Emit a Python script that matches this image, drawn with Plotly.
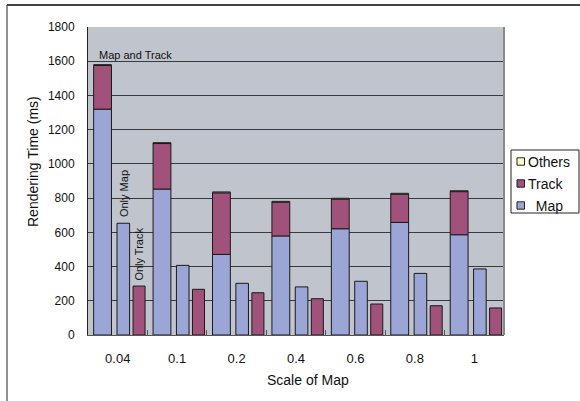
import numpy as np
import plotly.graph_objects as go

# ---- data ----
scales = ["0.04", "0.1", "0.2", "0.4", "0.6", "0.8", "1"]
map_part = [1320, 853, 471, 579, 621, 658, 586]        # Map in "Map and Track"
track_part = [255, 266, 360, 197, 173, 165, 252]       # Track in "Map and Track"
others_part = [5, 5, 5, 5, 5, 5, 5]                    # Others in "Map and Track"
only_map = [653, 407, 302, 281, 314, 360, 386]
only_track = [286, 267, 247, 212, 181, 171, 158]
y_ticks = [0, 200, 400, 600, 800, 1000, 1200, 1400, 1600, 1800]
legend_labels = ["Others", "Track", "\u00a0\u00a0Map"]

MAP_C = "#9CA6D6"
TRACK_C = "#A0527A"
OTHERS_C = "#FFFFCC"
EDGE = "#1a1a1a"
FONT = "Liberation Sans, Arial, sans-serif"

base_track = np.array(map_part)
base_others = np.array(map_part) + np.array(track_part)

fig = go.Figure()
line = dict(color=EDGE, width=1)
# stacked "Map and Track" bar
fig.add_trace(go.Bar(x=scales, y=map_part, name="Map", marker=dict(color=MAP_C, line=line),
                     offset=-0.405, width=0.30))
fig.add_trace(go.Bar(x=scales, y=track_part, base=base_track, name="Track",
                     marker=dict(color=TRACK_C, line=line), offset=-0.405, width=0.30))
fig.add_trace(go.Bar(x=scales, y=others_part, base=base_others, name="Others",
                     marker=dict(color=OTHERS_C, line=line), offset=-0.405, width=0.30))
# only map / only track
fig.add_trace(go.Bar(x=scales, y=only_map, name="Only Map", marker=dict(color=MAP_C, line=line),
                     offset=-0.012, width=0.212))
fig.add_trace(go.Bar(x=scales, y=only_track, name="Only Track", marker=dict(color=TRACK_C, line=line),
                     offset=0.258, width=0.202))

L, R, T, B = 88, 76, 27, 66
W, H = 580, 401
pw, ph = W - L - R, H - T - B


def px(x):
    return (x - L) / pw


def py(y):
    return (H - B - y) / ph


annotations = [
    dict(x=-0.405, y=map_part[0] + track_part[0] + others_part[0], xref="x", yref="y",
         text="Map and Track", showarrow=False, xanchor="left", yanchor="bottom",
         xshift=3, yshift=2, font=dict(size=11, family=FONT, color="#111")),
    dict(x=-0.012 + 0.106, y=only_map[0], xref="x", yref="y", text="Only Map",
         showarrow=False, textangle=-90, xanchor="center", yanchor="bottom", yshift=4,
         font=dict(size=11, family=FONT, color="#111")),
    dict(x=0.258 + 0.101, y=only_track[0], xref="x", yref="y", text="Only Track",
         showarrow=False, textangle=-90, xanchor="center", yanchor="bottom", yshift=3,
         font=dict(size=11, family=FONT, color="#111")),
    dict(x=px(308), y=py(380), xref="paper", yref="paper", text="Scale of Map",
         showarrow=False, xanchor="center", yanchor="middle",
         font=dict(size=14, family=FONT, color="#111")),
    dict(x=px(33), y=py(162), xref="paper", yref="paper", text="Rendering Time (ms)",
         showarrow=False, textangle=-90, xanchor="center", yanchor="middle",
         font=dict(size=14, family=FONT, color="#111")),
]

shapes = [
    # outer frame (left and top)
    dict(type="line", xref="paper", yref="paper", x0=px(7), x1=px(7), y0=py(401), y1=py(5),
         line=dict(color="#222", width=1)),
    dict(type="line", xref="paper", yref="paper", x0=px(7), x1=px(580), y0=py(5), y1=py(5),
         line=dict(color="#444", width=2)),
    # right border of plot area
    dict(type="line", xref="paper", yref="paper", x0=1, x1=1, y0=0, y1=1,
         line=dict(color="#8a8a8a", width=2)),
    # legend box
    dict(type="rect", xref="paper", yref="paper", x0=px(511), x1=px(579), y0=py(213), y1=py(150),
         line=dict(color="#222", width=1), fillcolor="white"),
]
leg_colors = [OTHERS_C, TRACK_C, MAP_C]
leg_y = [161.5, 183.5, 205.5]
for lab, col, yy in zip(legend_labels, leg_colors, leg_y):
    shapes.append(dict(type="rect", xref="paper", yref="paper", x0=px(517), x1=px(524.5),
                       y0=py(yy + 3.7), y1=py(yy - 3.7), fillcolor=col,
                       line=dict(color="#222", width=1)))
    annotations.append(dict(x=px(526), y=py(yy), xref="paper", yref="paper", text=lab,
                            showarrow=False, xanchor="left", yanchor="middle",
                            font=dict(size=14, family=FONT, color="#111")))

fig.update_layout(
    width=W, height=H,
    margin=dict(l=L, r=R, t=T, b=B, autoexpand=False),
    barmode="overlay",
    showlegend=False,
    paper_bgcolor="white",
    plot_bgcolor="#C0C4CC",
    font=dict(family=FONT, color="#111"),
    annotations=annotations,
    shapes=shapes,
)
fig.update_xaxes(type="category", range=[-0.5, 6.5], showgrid=False, tickson="boundaries",
                 ticks="inside", ticklen=5, tickcolor="#555", showline=True, linecolor="#555",
                 linewidth=1, tickfont=dict(size=13, family=FONT, color="#111"),
                 ticklabelstandoff=11)
fig.update_yaxes(range=[0, 1800], tickvals=y_ticks, showgrid=True, gridcolor="#3a3a3a",
                 gridwidth=1, showline=True, linecolor="#222", linewidth=1, zeroline=False,
                 ticks="", tickfont=dict(size=12, family=FONT, color="#111"),
                 ticklabelstandoff=10)
fig.write_html(
    "out.html",
    config={"displayModeBar": False},
    post_script="document.body.style.margin='0';document.body.style.overflow='hidden';",
)
